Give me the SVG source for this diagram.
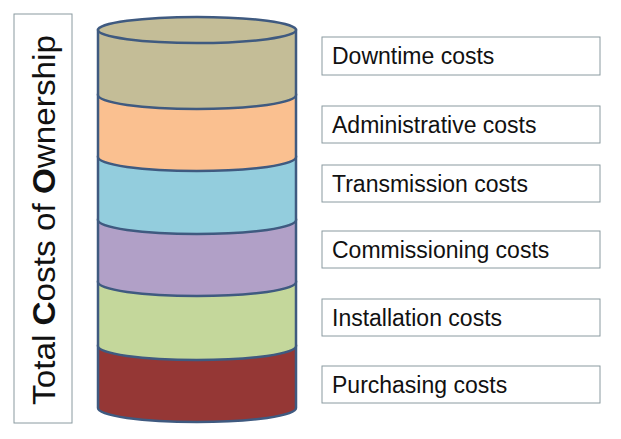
<svg xmlns="http://www.w3.org/2000/svg" width="621" height="439" viewBox="0 0 621 439">
<style>
.b{stroke:#3f5a80;stroke-width:2.5}
.lb{fill:#fff;stroke:#8a9aa0;stroke-width:1}
.t{font-family:"Liberation Sans",Arial,sans-serif;font-size:23px;fill:#111}
</style>
<rect width="621" height="439" fill="#fff"/>
<g id="title"><rect class="lb" x="14" y="14" width="58" height="409"/>
<text class="t" transform="translate(55,405) rotate(-90)" style="font-size:31px" textLength="370" lengthAdjust="spacingAndGlyphs">Total <tspan font-weight="bold">C</tspan>osts of <tspan font-weight="bold">O</tspan>wnership</text></g>
<g id="cylinder">
<path id="purchasing" class="b" fill="#953735" d="M98,346 L98,408 A99,14 0 0 0 296,408 L296,346 Z"/>
<path id="installation" class="b" fill="#c4d79b" d="M98,282 L98,346 A99,14 0 0 0 296,346 L296,282 Z"/>
<path id="commissioning" class="b" fill="#b1a0c7" d="M98,220 L98,282 A99,14 0 0 0 296,282 L296,220 Z"/>
<path id="transmission" class="b" fill="#93cddd" d="M98,157 L98,220 A99,14 0 0 0 296,220 L296,157 Z"/>
<path id="administrative" class="b" fill="#fac090" d="M98,95 L98,157 A99,14 0 0 0 296,157 L296,95 Z"/>
<path id="downtime" class="b" fill="#c4bd97" d="M98,30 L98,95 A99,14 0 0 0 296,95 L296,30 Z"/>
<ellipse class="b" fill="#c4bd97" cx="197" cy="30" rx="99" ry="13"/>
</g>
<g id="labels">
<g id="l1"><rect class="lb" x="322" y="37" width="278" height="38"/><text class="t" x="332" y="64">Downtime costs</text></g>
<g id="l2"><rect class="lb" x="322" y="106" width="278" height="37"/><text class="t" x="332" y="133">Administrative costs</text></g>
<g id="l3"><rect class="lb" x="322" y="165" width="278" height="37"/><text class="t" x="332" y="192">Transmission costs</text></g>
<g id="l4"><rect class="lb" x="322" y="231" width="278" height="37"/><text class="t" x="332" y="258">Commissioning costs</text></g>
<g id="l5"><rect class="lb" x="322" y="299" width="278" height="37"/><text class="t" x="332" y="326">Installation costs</text></g>
<g id="l6"><rect class="lb" x="322" y="366" width="278" height="37"/><text class="t" x="332" y="393">Purchasing costs</text></g>
</g>
<g id="connectors"/>
</svg>
